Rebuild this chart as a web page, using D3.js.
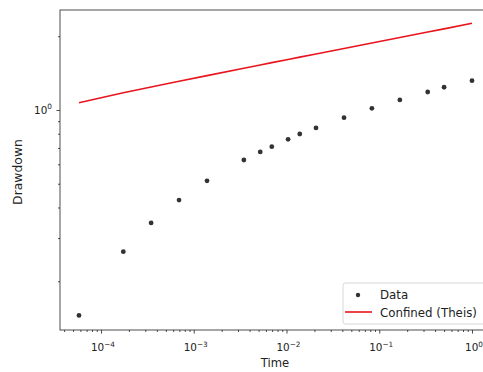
<!DOCTYPE html>
<html><head><meta charset="utf-8">
<script src="https://cdn.jsdelivr.net/npm/d3@7"></script>
<style>
html,body{margin:0;padding:0;background:#fff;}
svg{display:block;font-family:"DejaVu Sans",sans-serif;}
</style></head>
<body><svg id="c" width="483" height="372"></svg>
<script>
// Data (time in days, drawdown)
const times = [5.79e-5, 1.74e-4, 3.47e-4, 6.94e-4, 1.39e-3, 3.47e-3, 5.21e-3, 6.94e-3, 1.04e-2, 1.39e-2, 2.08e-2, 4.17e-2, 8.33e-2, 0.1667, 0.333, 0.5, 1.0];
const drawdown = [0.145, 0.264, 0.346, 0.429, 0.514, 0.625, 0.674, 0.708, 0.759, 0.798, 0.845, 0.930, 1.016, 1.099, 1.184, 1.238, 1.317];
const theis = [1.071, 1.175, 1.241, 1.310, 1.381, 1.481, 1.526, 1.560, 1.607, 1.643, 1.692, 1.782, 1.876, 1.975, 2.080, 2.143, 2.259];
const xMajorExp = [-4, -3, -2, -1, 0];
const yMajorExp = [0];
const seriesNames = ["Data", "Confined (Theis)"];
const xLabel = "Time", yLabel = "Drawdown";

const svg = d3.select("#c");
const L = 60, R = 490, T = 10, B = 330;
const x = d3.scaleLog().domain([Math.pow(10, -4.442), Math.pow(10, 0.194)]).range([L, R]);
const y = d3.scaleLog().domain([Math.pow(10, -0.898), Math.pow(10, 0.408)]).range([B, T]);

const axisColor = "#222";
function minorTicks(scale) {
  const [a, b] = scale.domain();
  const out = [];
  for (let e = Math.floor(Math.log10(a)) - 1; e <= Math.ceil(Math.log10(b)); e++) {
    for (let m = 2; m <= 9; m++) {
      const v = m * Math.pow(10, e);
      if (v >= a && v <= b) out.push(v);
    }
  }
  return out;
}
const gx = svg.append("g").attr("transform", `translate(0,${B})`);
gx.call(d3.axisBottom(x).tickValues(minorTicks(x)).tickSize(2).tickFormat(""));
const gxM = svg.append("g").attr("transform", `translate(0,${B})`);
gxM.call(d3.axisBottom(x).tickValues(xMajorExp.map(e => Math.pow(10, e))).tickSize(3.6).tickFormat(""));
const gy = svg.append("g").attr("transform", `translate(${L},0)`);
gy.call(d3.axisLeft(y).tickValues(minorTicks(y)).tickSize(2).tickFormat(""));
const gyM = svg.append("g").attr("transform", `translate(${L},0)`);
gyM.call(d3.axisLeft(y).tickValues(yMajorExp.map(e => Math.pow(10, e))).tickSize(3.6).tickFormat(""));
svg.selectAll(".domain").remove();
svg.selectAll(".tick line").attr("stroke", axisColor).attr("stroke-width", 0.8);

function supLabel(g, e, xp, yp, anchor) {
  const t = g.append("text").attr("x", xp).attr("y", yp).attr("text-anchor", anchor)
    .attr("font-size", 10.4).attr("fill", "#222");
  t.append("tspan").text("10");
  t.append("tspan").attr("font-size", 7.3).attr("dy", -4.5).text(e < 0 ? "\u2212" + Math.abs(e) : String(e));
}
xMajorExp.forEach(e => supLabel(svg, e, x(Math.pow(10, e)) + 2, B + 21, "middle"));
yMajorExp.forEach(e => supLabel(svg, e, L - 8, y(Math.pow(10, e)) + 4, "end"));

svg.append("rect").attr("x", L).attr("y", T).attr("width", R - L).attr("height", B - T)
  .attr("fill", "none").attr("stroke", axisColor).attr("stroke-width", 0.8);

svg.append("text").attr("x", (L + R) / 2).attr("y", 367).attr("text-anchor", "middle")
  .attr("font-size", 11.6).attr("fill", "#222").text(xLabel);
svg.append("text").attr("transform", `translate(22,${(T + B) / 2 + 2}) rotate(-90)`).attr("text-anchor", "middle")
  .attr("font-size", 12.4).attr("fill", "#222").text(yLabel);

const line = d3.line().x((d, i) => x(times[i])).y(d => y(d));
svg.append("path").datum(theis).attr("d", line).attr("fill", "none")
  .attr("stroke", "#e8141e").attr("stroke-width", 1.6);

svg.append("g").selectAll("circle").data(drawdown).join("circle")
  .attr("cx", (d, i) => x(times[i])).attr("cy", d => y(d)).attr("r", 2.4).attr("fill", "#333");

const lg = svg.append("g");
lg.append("rect").attr("x", 343).attr("y", 283).attr("width", 143).attr("height", 41).attr("rx", 2.5)
  .attr("fill", "#fff").attr("fill-opacity", 0.8).attr("stroke", "#ccc").attr("stroke-width", 0.8);
lg.append("circle").attr("cx", 358).attr("cy", 295).attr("r", 2.2).attr("fill", "#333");
lg.append("line").attr("x1", 345).attr("x2", 372).attr("y1", 312).attr("y2", 312)
  .attr("stroke", "#e8141e").attr("stroke-width", 1.6);
lg.append("text").attr("x", 380).attr("y", 299).attr("font-size", 11.8).attr("fill", "#222").text(seriesNames[0]);
lg.append("text").attr("x", 380).attr("y", 316.5).attr("font-size", 11.8).attr("fill", "#222").text(seriesNames[1]);
</script>
</body></html>
